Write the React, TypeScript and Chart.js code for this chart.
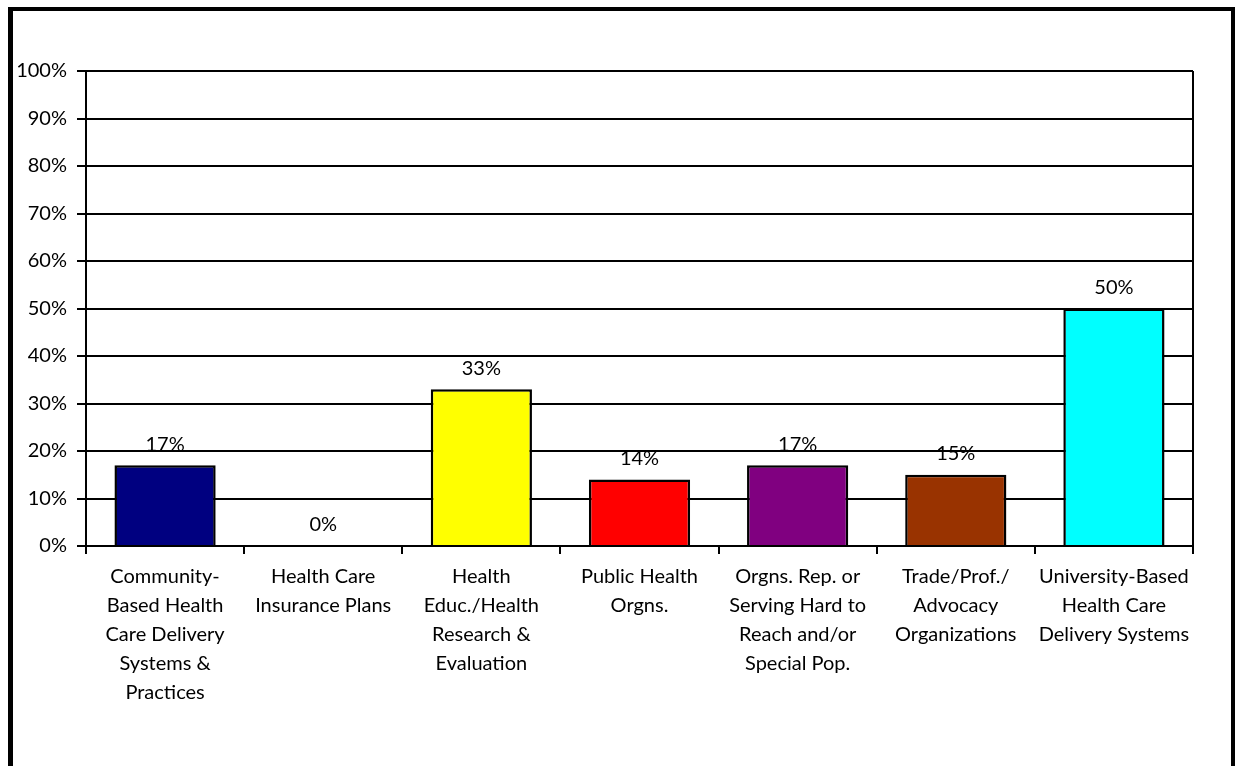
import React, { useEffect, useRef } from "react";
import { Chart, registerables } from "chart.js";

Chart.register(...registerables);

const categories: string[][] = [
  ["Community-", "Based Health", "Care Delivery", "Systems &", "Practices"],
  ["Health Care", "Insurance Plans"],
  ["Health", "Educ./Health", "Research &", "Evaluation"],
  ["Public Health", "Orgns."],
  ["Orgns. Rep. or", "Serving Hard to", "Reach and/or", "Special Pop."],
  ["Trade/Prof./", "Advocacy", "Organizations"],
  ["University-Based", "Health Care", "Delivery Systems"],
];
const values: number[] = [17, 0, 33, 14, 17, 15, 50];
const barColors: string[] = ["#000080", "#000080", "#FFFF00", "#FF0000", "#800080", "#993300", "#00FFFF"];
const yTicks: number[] = [0, 10, 20, 30, 40, 50, 60, 70, 80, 90, 100];

const FONT = "Lato, 'Open Sans', sans-serif";

const labelPlugin = {
  id: "valueLabels",
  afterDatasetsDraw(chart: any) {
    const ctx = chart.ctx;
    const meta = chart.getDatasetMeta(0);
    ctx.save();
    ctx.font = `20px ${FONT}`;
    ctx.fillStyle = "#000";
    ctx.textAlign = "center";
    ctx.textBaseline = "middle";
    meta.data.forEach((el: any, i: number) => {
      ctx.fillText(values[i] + "%", el.x, el.y - 21);
    });
    ctx.restore();
  },
};

const framePlugin = {
  id: "plotFrame",
  afterDraw(chart: any) {
    const { ctx, chartArea } = chart;
    ctx.save();
    ctx.strokeStyle = "#000";
    ctx.lineWidth = 2;
    ctx.beginPath();
    ctx.moveTo(chartArea.right, chartArea.top);
    ctx.lineTo(chartArea.right, chartArea.bottom);
    ctx.stroke();
    ctx.restore();
  },
};

export default function App() {
  const ref = useRef<HTMLCanvasElement>(null);
  useEffect(() => {
    if (!ref.current) return;
    const chart = new Chart(ref.current, {
      type: "bar",
      data: {
        labels: categories,
        datasets: [
          {
            data: values,
            backgroundColor: barColors,
            borderColor: "#000",
            borderWidth: 2.5,
            categoryPercentage: 1,
            barPercentage: 0.64,
          },
        ],
      },
      options: {
        responsive: false,
        animation: false,
        layout: { padding: { left: 0, top: 71, right: 42, bottom: 40 } },
        plugins: { legend: { display: false }, tooltip: { enabled: false } },
        scales: {
          x: {
            offset: true,
            grid: {
              offset: true,
              drawOnChartArea: false,
              drawTicks: true,
              tickLength: 8,
              color: "#000",
              lineWidth: 2,
            },
            border: { display: true, color: "#000", width: 2 },
            ticks: {
              autoSkip: false,
              maxRotation: 0,
              minRotation: 0,
              padding: 8,
              color: "#000",
              font: { family: FONT, size: 20, lineHeight: 1.45 },
            },
            afterFit: (s: any) => {
              s.height = 180;
            },
          },
          y: {
            min: 0,
            max: 100,
            afterBuildTicks: (s: any) => {
              s.ticks = yTicks.map((v) => ({ value: v }));
            },
            grid: { color: "#000", lineWidth: 2, tickLength: 9 },
            border: { display: true, color: "#000", width: 2 },
            ticks: {
              padding: 10,
              color: "#000",
              font: { family: FONT, size: 20 },
              callback: (v: any) => v + "%",
            },
            afterFit: (s: any) => {
              s.width = 86;
            },
          },
        },
      },
      plugins: [labelPlugin, framePlugin],
    });
    return () => chart.destroy();
  }, []);
  return (
    <div style={{ position: "fixed", left: 0, top: 0, width: 1235, height: 766, background: "#fff", overflow: "hidden" }}>
      <div
        style={{
          position: "absolute",
          left: 8,
          top: 7,
          width: 1228,
          height: 800,
          border: "5px solid #000",
          borderTopWidth: 4,
          boxSizing: "border-box",
        }}
      />
      <canvas ref={ref} width={1235} height={766} style={{ position: "absolute", left: 0, top: 0 }} />
    </div>
  );
}
